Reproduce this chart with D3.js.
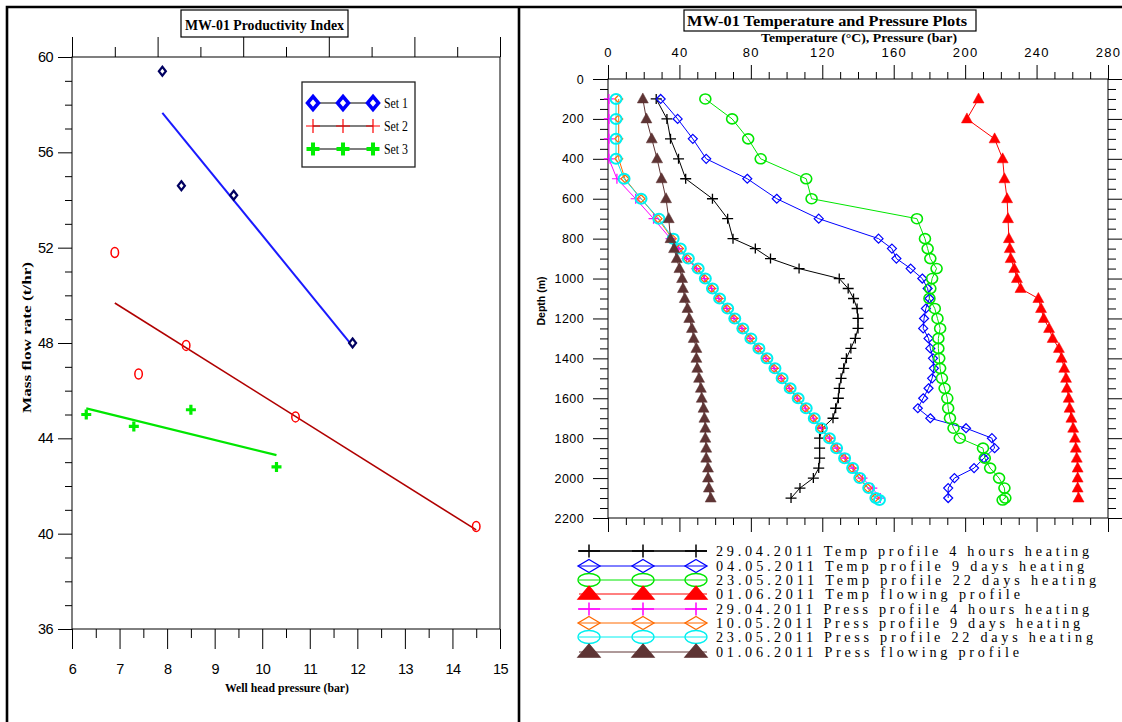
<!DOCTYPE html>
<html><head><meta charset="utf-8">
<script src="https://cdn.jsdelivr.net/npm/d3@7"></script>
<style>body{margin:0;background:#fff} svg{display:block}</style>
</head><body>
<svg id="c" width="1122" height="722"></svg>
<script>
// ================= LEFT CHART DATA =================
const leftTitle = "MW-01 Productivity Index";
const leftXLabel = "Well head pressure (bar)";
const leftYLabel = "Mass flow rate (t/hr)";
const setNames = ["Set 1", "Set 2", "Set 3"];
const set1X = [7.9, 8.3, 9.4, 11.9];
const set1Y = [59.4, 54.6, 54.2, 48.0];
const set2X = [6.9, 7.4, 8.4, 10.7, 14.5];
const set2Y = [51.8, 46.7, 47.9, 44.9, 40.3];
const set3X = [6.3, 7.3, 8.5, 10.3];
const set3Y = [45.0, 44.5, 45.2, 42.8];
const xTicksL = [6, 7, 8, 9, 10, 11, 12, 13, 14, 15];
const yTicksL = [36, 40, 44, 48, 52, 56, 60];

// ================= RIGHT CHART DATA =================
const rightTitle = "MW-01 Temperature and Pressure Plots";
const rightXLabel = "Temperature (°C), Pressure (bar)";
const rightYLabel = "Depth (m)";
const tempTicks = [0, 40, 80, 120, 160, 200, 240, 280];
const depthTicks = [0, 200, 400, 600, 800, 1000, 1200, 1400, 1600, 1800, 2000, 2200];
const depthsA = [100, 200, 300, 400, 500, 600, 700, 800, 850, 900, 950, 1000, 1050, 1100, 1150, 1200, 1250, 1300, 1350, 1400, 1450, 1500, 1550, 1600, 1650, 1700, 1750, 1800, 1850, 1900, 1950, 2000, 2050, 2100];
const depthsB = [100, 200, 300, 400, 500, 600, 700, 800, 850, 900, 950, 1000, 1050, 1100, 1150, 1200, 1250, 1300, 1350, 1400, 1450, 1500, 1550, 1600, 1650, 1700, 1750, 1800, 1850, 1900, 1950, 2000, 2050, 2100, 2110];
const seriesNames = [
  "29.04.2011 Temp profile 4 hours heating",
  "04.05.2011 Temp profile 9 days heating",
  "23.05.2011 Temp profile 22 days heating",
  "01.06.2011 Temp flowing profile",
  "29.04.2011 Press profile 4 hours heating",
  "10.05.2011 Press profile 9 days heating",
  "23.05.2011 Press profile 22 days heating",
  "01.06.2011 Press flowing profile"
];
const temp4h = [27, 33, 35, 39.5, 43.5, 58.5, 67, 70, 82.5, 91, 107, 129.5, 134.5, 137.5, 139.5, 140, 140, 138.5, 136, 133.5, 132, 130.5, 129.5, 129, 127.5, 126, 120, 118.5, 118.5, 118.5, 118, 115, 107.5, 102.5];
const temp9d = [29.5, 39, 47.5, 55, 78, 94.5, 118, 151.5, 159, 161.5, 169.5, 176, 179, 180, 178, 177, 176.5, 179.5, 180.5, 182, 182.5, 181.5, 179.5, 176.5, 173.5, 180.5, 200.5, 215, 216.5, 210.5, 205, 194, 190.5, 190.5];
const temp22d = [54.5, 69.5, 78.5, 85.5, 111, 114, 173, 177.5, 179, 180.5, 184, 181.5, 180.5, 180, 183, 184.5, 186, 185, 185, 185.5, 186, 187, 188.5, 190, 190.5, 191.5, 193.5, 197, 210, 211, 214, 219, 222, 222.5, 221];
const tempFlow = [207.5, 201, 216.5, 221, 222, 223.5, 224, 224.5, 225, 225.5, 227.5, 229, 231, 241, 242.5, 244, 247, 249, 252.5, 254, 255.5, 256.5, 257, 258, 258.5, 259.5, 260.5, 261.5, 262, 262.5, 263, 263, 263, 263.5];
const press4h = [0.5, 0.5, 0.5, 0.5, 5, 15.5, 25.5, 35, 39.5, 44, 49.5, 54, 58, 62, 66.5, 70.5, 75, 79.5, 84, 88.5, 93, 97, 101.5, 106, 110.5, 115, 119.5, 124, 128.5, 133, 137.5, 142.5, 148, 152.5];
const press9d = [6, 6, 6, 6, 9.5, 18.5, 28, 36, 40, 44.5, 50, 54, 58, 62, 66.5, 70.5, 75, 79.5, 84, 88.5, 93, 97, 101.5, 106, 110.5, 115, 119, 123.5, 127.5, 132, 136.5, 140.5, 145.5, 149.5];
const press22d = [4.5, 4.5, 4.5, 4.5, 9, 18.5, 28.5, 36.5, 40.5, 45, 50.5, 54.5, 58.5, 62.5, 67, 71, 75.5, 80, 84.5, 89, 93.5, 97.5, 102, 106.5, 111, 115.5, 119.5, 124, 128, 132.5, 137, 141, 146, 150, 152];
const pressFlow = [19.5, 21.5, 24.5, 27.5, 30, 32.5, 34, 35, 37, 38.5, 40, 41.5, 42, 43, 44.5, 45.5, 47, 48, 49.5, 49.5, 50, 51, 52, 52.5, 53.5, 54, 54.5, 54.5, 55, 55, 56, 56, 56.5, 57.5];

// ================= STYLES =================
const rightStyles = [
  {vals: temp4h, depths: depthsA, color: "#000000", shape: "plus", w: 11, h: 10, sw: 1.3, fill: "none", legLine: "#333", legLW: 2.2},
  {vals: temp9d, depths: depthsA, color: "#0000ff", shape: "diamond", w: 9, h: 9, sw: 1.2, fill: "none", legLine: "#0000ff", legLW: 1},
  {vals: temp22d, depths: depthsB, color: "#00e600", shape: "ellipse", w: 11, h: 10, sw: 1.6, fill: "none", legLine: "#00e600", legLW: 1},
  {vals: tempFlow, depths: depthsA, color: "#ff0000", shape: "triangle", w: 11, h: 10, sw: 0.5, fill: "#ff0000", legLine: "#ff0000", legLW: 1},
  {vals: press4h, depths: depthsA, color: "#ff00ff", shape: "plus", w: 10, h: 10, sw: 1.2, fill: "none", legLine: "#ff00ff", legLW: 1},
  {vals: press9d, depths: depthsA, color: "#ff6a00", shape: "diamond", w: 8, h: 8, sw: 1.2, fill: "none", legLine: "#ff6a00", legLW: 1},
  {vals: press22d, depths: depthsB, color: "#00f0f0", shape: "ellipse", w: 11, h: 10, sw: 2, fill: "none", legLine: "#00f0f0", legLW: 1},
  {vals: pressFlow, depths: depthsA, color: "#5e3434", shape: "triangle", w: 11, h: 10, sw: 0.5, fill: "#5e3434", legLine: "#5e3434", legLW: 1}
];
const legendTextWidths = [373, 368, 380, 304, 373, 364, 377, 303];

function shapePath(type, w, h) {
  const a = w / 2, b = h / 2;
  if (type === "plus") return `M${-a},0H${a}M0,${-b}V${b}`;
  if (type === "diamond") return `M0,${-b}L${a},0L0,${b}L${-a},0Z`;
  if (type === "ellipse") return `M${-a},0A${a},${b} 0 1,0 ${a},0A${a},${b} 0 1,0 ${-a},0Z`;
  if (type === "triangle") return `M0,${-h * 0.6}L${a},${h * 0.4}L${-a},${h * 0.4}Z`;
  return "";
}

const svg = d3.select("#c");
const SERIF = "'Liberation Serif','Times New Roman',serif";
const SANS = "'Liberation Sans',Arial,sans-serif";

// panel borders
svg.append("path").attr("d", "M7,722V7H1122M519,7V722")
  .attr("fill", "none").attr("stroke", "#000").attr("stroke-width", 2.6);

function styleAxis(g, font, size, ls) {
  g.select(".domain").remove();
  g.selectAll("line").attr("stroke", "#000").attr("stroke-width", 1);
  g.selectAll("text").attr("font-family", font).attr("font-size", size)
    .attr("fill", "#000").attr("letter-spacing", ls);
}

// ================= LEFT CHART =================
const xL = d3.scaleLinear().domain([6, 15]).range([72, 500]);
const yL = d3.scaleLinear().domain([36, 60]).range([629, 57]);
const gL = svg.append("g");

gL.append("rect").attr("x", 72).attr("y", 57).attr("width", 428).attr("height", 572)
  .attr("fill", "none").attr("stroke", "#000").attr("stroke-width", 1);

// bottom axis
gL.append("g").attr("transform", "translate(0,629)")
  .call(d3.axisBottom(xL).tickValues(xTicksL).tickSize(20).tickPadding(15).tickFormat(d3.format("d")))
  .call(g => styleAxis(g, SANS, "14.5px", "-0.6px"));
gL.append("g").attr("transform", "translate(0,629)")
  .call(d3.axisBottom(xL).tickValues(d3.range(6.5, 15, 1)).tickSize(9).tickFormat(""))
  .call(g => styleAxis(g, SANS, "14px", "0"));
// left axis
gL.append("g").attr("transform", "translate(72,0)")
  .call(d3.axisLeft(yL).tickValues(yTicksL).tickSize(14).tickPadding(5).tickFormat(d3.format("d")))
  .call(g => styleAxis(g, SANS, "14.5px", "-0.6px"));
gL.append("g").attr("transform", "translate(72,0)")
  .call(d3.axisLeft(yL).tickValues(d3.range(37, 60, 1).filter(v => v % 4 !== 0)).tickSize(7).tickFormat(""))
  .call(g => styleAxis(g, SANS, "14px", "0"));
// top axis (unlabelled, 10 divisions)
const xTop = d3.scaleLinear().domain([0, 10]).range([72, 500]);
gL.append("g").attr("transform", "translate(0,57)")
  .call(d3.axisTop(xTop).tickValues([0, 2, 4, 6, 8, 10]).tickSize(20).tickFormat(""))
  .call(g => styleAxis(g, SANS, "14px", "0"));
gL.append("g").attr("transform", "translate(0,57)")
  .call(d3.axisTop(xTop).tickValues([1, 3, 5, 7, 9]).tickSize(10).tickFormat(""))
  .call(g => styleAxis(g, SANS, "14px", "0"));

// title box
gL.append("rect").attr("x", 181).attr("y", 10).attr("width", 167).attr("height", 27)
  .attr("fill", "#fff").attr("stroke", "#000").attr("stroke-width", 1.2);
gL.append("text").attr("x", 185).attr("y", 30).text(leftTitle)
  .attr("font-family", SERIF).attr("font-weight", "bold").attr("font-size", "15px")
  .attr("textLength", 159).attr("lengthAdjust", "spacingAndGlyphs");
// axis titles
gL.append("text").attr("x", 225).attr("y", 692).text(leftXLabel)
  .attr("font-family", SERIF).attr("font-weight", "bold").attr("font-size", "13.5px")
  .attr("textLength", 124).attr("lengthAdjust", "spacingAndGlyphs");
gL.append("text").attr("transform", "translate(31,413) rotate(-90)").text(leftYLabel)
  .attr("font-family", SERIF).attr("font-weight", "bold").attr("font-size", "13.5px")
  .attr("textLength", 151).attr("lengthAdjust", "spacingAndGlyphs");

// regression lines
function fit(xs, ys) {
  const mx = d3.mean(xs), my = d3.mean(ys);
  let sxy = 0, sxx = 0;
  xs.forEach((x, i) => { sxy += (x - mx) * (ys[i] - my); sxx += (x - mx) * (x - mx); });
  const m = sxy / sxx, b = my - m * mx;
  const x0 = d3.min(xs), x1 = d3.max(xs);
  return [[x0, m * x0 + b], [x1, m * x1 + b]];
}
const leftSets = [
  {xs: set1X, ys: set1Y, line: "#1a1aff", lw: 2, shape: "diamond", w: 7, h: 9, color: "#000060", sw: 2.2, fill: "#fff"},
  {xs: set2X, ys: set2Y, line: "#b00000", lw: 1.6, shape: "ellipse", w: 7.5, h: 10, color: "#ff0000", sw: 1.5, fill: "none"},
  {xs: set3X, ys: set3Y, line: "#00e600", lw: 2.2, shape: "plus", w: 10, h: 10, color: "#00ee00", sw: 3.2, fill: "none"}
];
const lineL = d3.line().x(d => xL(d[0])).y(d => yL(d[1]));
leftSets.forEach(s => {
  gL.append("path").attr("d", lineL(fit(s.xs, s.ys))).attr("fill", "none")
    .attr("stroke", s.line).attr("stroke-width", s.lw);
});
leftSets.forEach(s => {
  gL.selectAll(null).data(s.xs.map((x, i) => [x, s.ys[i]])).enter().append("path")
    .attr("transform", d => `translate(${xL(d[0])},${yL(d[1])})`)
    .attr("d", shapePath(s.shape, s.w, s.h))
    .attr("fill", s.fill).attr("stroke", s.color).attr("stroke-width", s.sw);
});

// legend
gL.append("rect").attr("x", 302).attr("y", 82).attr("width", 113).attr("height", 85)
  .attr("fill", "#fff").attr("stroke", "#222").attr("stroke-width", 1.3);
const legL = [
  {shape: "diamond", w: 11, h: 13, color: "#0000ff", sw: 3.5, fill: "#fff"},
  {shape: "plus", w: 14, h: 14, color: "#ff0000", sw: 1.2, fill: "none"},
  {shape: "plus", w: 13, h: 13, color: "#00ee00", sw: 4, fill: "none"}
];
const legRowsY = [103, 126, 149];
const legSymX = [313, 343, 373];
legL.forEach((s, i) => {
  const y = legRowsY[i];
  gL.append("line").attr("x1", 313).attr("x2", 373).attr("y1", y).attr("y2", y)
    .attr("stroke", "#555").attr("stroke-width", 1.5);
  legSymX.forEach(x => {
    gL.append("path").attr("transform", `translate(${x},${y})`).attr("d", shapePath(s.shape, s.w, s.h))
      .attr("fill", s.fill).attr("stroke", s.color).attr("stroke-width", s.sw);
  });
  gL.append("text").attr("x", 384).attr("y", y + 5).text(setNames[i])
    .attr("font-family", SERIF).attr("font-size", "14px")
    .attr("textLength", 24).attr("lengthAdjust", "spacingAndGlyphs");
});

// ================= RIGHT CHART =================
const xR = d3.scaleLinear().domain([0, 280]).range([608, 1108]);
const yR = d3.scaleLinear().domain([0, 2200]).range([79, 518]);
const gR = svg.append("g");

gR.append("rect").attr("x", 608).attr("y", 79).attr("width", 500).attr("height", 439)
  .attr("fill", "none").attr("stroke", "#000").attr("stroke-width", 1);

// top axis
gR.append("g").attr("transform", "translate(0,79)")
  .call(d3.axisTop(xR).tickValues(tempTicks).tickSize(14).tickPadding(8).tickFormat(d3.format("d")))
  .call(g => styleAxis(g, SANS, "13px", "1.3px"));
gR.append("g").attr("transform", "translate(0,79)")
  .call(d3.axisTop(xR).tickValues(d3.range(10, 280, 10).filter(v => v % 40 !== 0)).tickSize(7).tickFormat(""))
  .call(g => styleAxis(g, SANS, "13px", "0"));
// bottom axis
gR.append("g").attr("transform", "translate(0,518)")
  .call(d3.axisBottom(xR).tickValues(tempTicks).tickSize(14).tickFormat(""))
  .call(g => styleAxis(g, SANS, "13px", "0"));
gR.append("g").attr("transform", "translate(0,518)")
  .call(d3.axisBottom(xR).tickValues(d3.range(10, 280, 10).filter(v => v % 40 !== 0)).tickSize(7).tickFormat(""))
  .call(g => styleAxis(g, SANS, "13px", "0"));
// left axis
gR.append("g").attr("transform", "translate(608,0)")
  .call(d3.axisLeft(yR).tickValues(depthTicks).tickSize(15).tickPadding(9).tickFormat(d3.format("d")))
  .call(g => styleAxis(g, SANS, "12.5px", "0.4px"));
gR.append("g").attr("transform", "translate(608,0)")
  .call(d3.axisLeft(yR).tickValues(d3.range(50, 2200, 50).filter(v => v % 200 !== 0)).tickSize(8).tickFormat(""))
  .call(g => styleAxis(g, SANS, "13px", "0"));
// right axis
gR.append("g").attr("transform", "translate(1108,0)")
  .call(d3.axisRight(yR).tickValues(depthTicks).tickSize(14).tickFormat(""))
  .call(g => styleAxis(g, SANS, "13px", "0"));
gR.append("g").attr("transform", "translate(1108,0)")
  .call(d3.axisRight(yR).tickValues(d3.range(50, 2200, 50).filter(v => v % 200 !== 0)).tickSize(8).tickFormat(""))
  .call(g => styleAxis(g, SANS, "13px", "0"));

// title
gR.append("rect").attr("x", 684).attr("y", 10).attr("width", 292).attr("height", 21)
  .attr("fill", "#fff").attr("stroke", "#000").attr("stroke-width", 1.2);
gR.append("text").attr("x", 687).attr("y", 26).text(rightTitle)
  .attr("font-family", SERIF).attr("font-weight", "bold").attr("font-size", "14px")
  .attr("textLength", 280).attr("lengthAdjust", "spacingAndGlyphs");
gR.append("text").attr("x", 761).attr("y", 42).text(rightXLabel)
  .attr("font-family", SERIF).attr("font-weight", "bold").attr("font-size", "12px")
  .attr("textLength", 196).attr("lengthAdjust", "spacingAndGlyphs");
gR.append("text").attr("transform", "translate(545,301) rotate(-90)").text(rightYLabel)
  .attr("text-anchor", "middle")
  .attr("font-family", SANS).attr("font-weight", "bold").attr("font-size", "10.5px");

// series
const lineR = d3.line().x(d => xR(d[0])).y(d => yR(d[1]));
rightStyles.forEach(s => {
  const pts = s.vals.map((v, i) => [v, s.depths[i]]);
  gR.append("path").attr("d", lineR(pts)).attr("fill", "none")
    .attr("stroke", s.color).attr("stroke-width", 1);
});
rightStyles.forEach(s => {
  const pts = s.vals.map((v, i) => [v, s.depths[i]]);
  gR.selectAll(null).data(pts).enter().append("path")
    .attr("transform", d => `translate(${xR(d[0])},${yR(d[1])})`)
    .attr("d", shapePath(s.shape, s.w, s.h))
    .attr("fill", s.fill).attr("stroke", s.color).attr("stroke-width", s.sw);
});

// legend
const legRY = [551, 566, 580, 594, 609, 623, 637, 652];
const legRX = [589, 643, 696];
rightStyles.forEach((s, i) => {
  const y = legRY[i];
  gR.append("line").attr("x1", 579).attr("x2", 707).attr("y1", y).attr("y2", y)
    .attr("stroke", s.legLine).attr("stroke-width", s.legLW);
  legRX.forEach(x => {
    gR.append("path").attr("transform", `translate(${x},${y})`)
      .attr("d", shapePath(s.shape, 22, 13))
      .attr("fill", s.fill).attr("stroke", s.color).attr("stroke-width", s.shape === "plus" ? 1.5 : 1.3);
  });
  gR.append("text").attr("x", 716).attr("y", y + 5).text(seriesNames[i])
    .attr("font-family", SERIF).attr("font-size", "14.2px")
    .attr("textLength", legendTextWidths[i]).attr("lengthAdjust", "spacing");
});
</script>
</body></html>
